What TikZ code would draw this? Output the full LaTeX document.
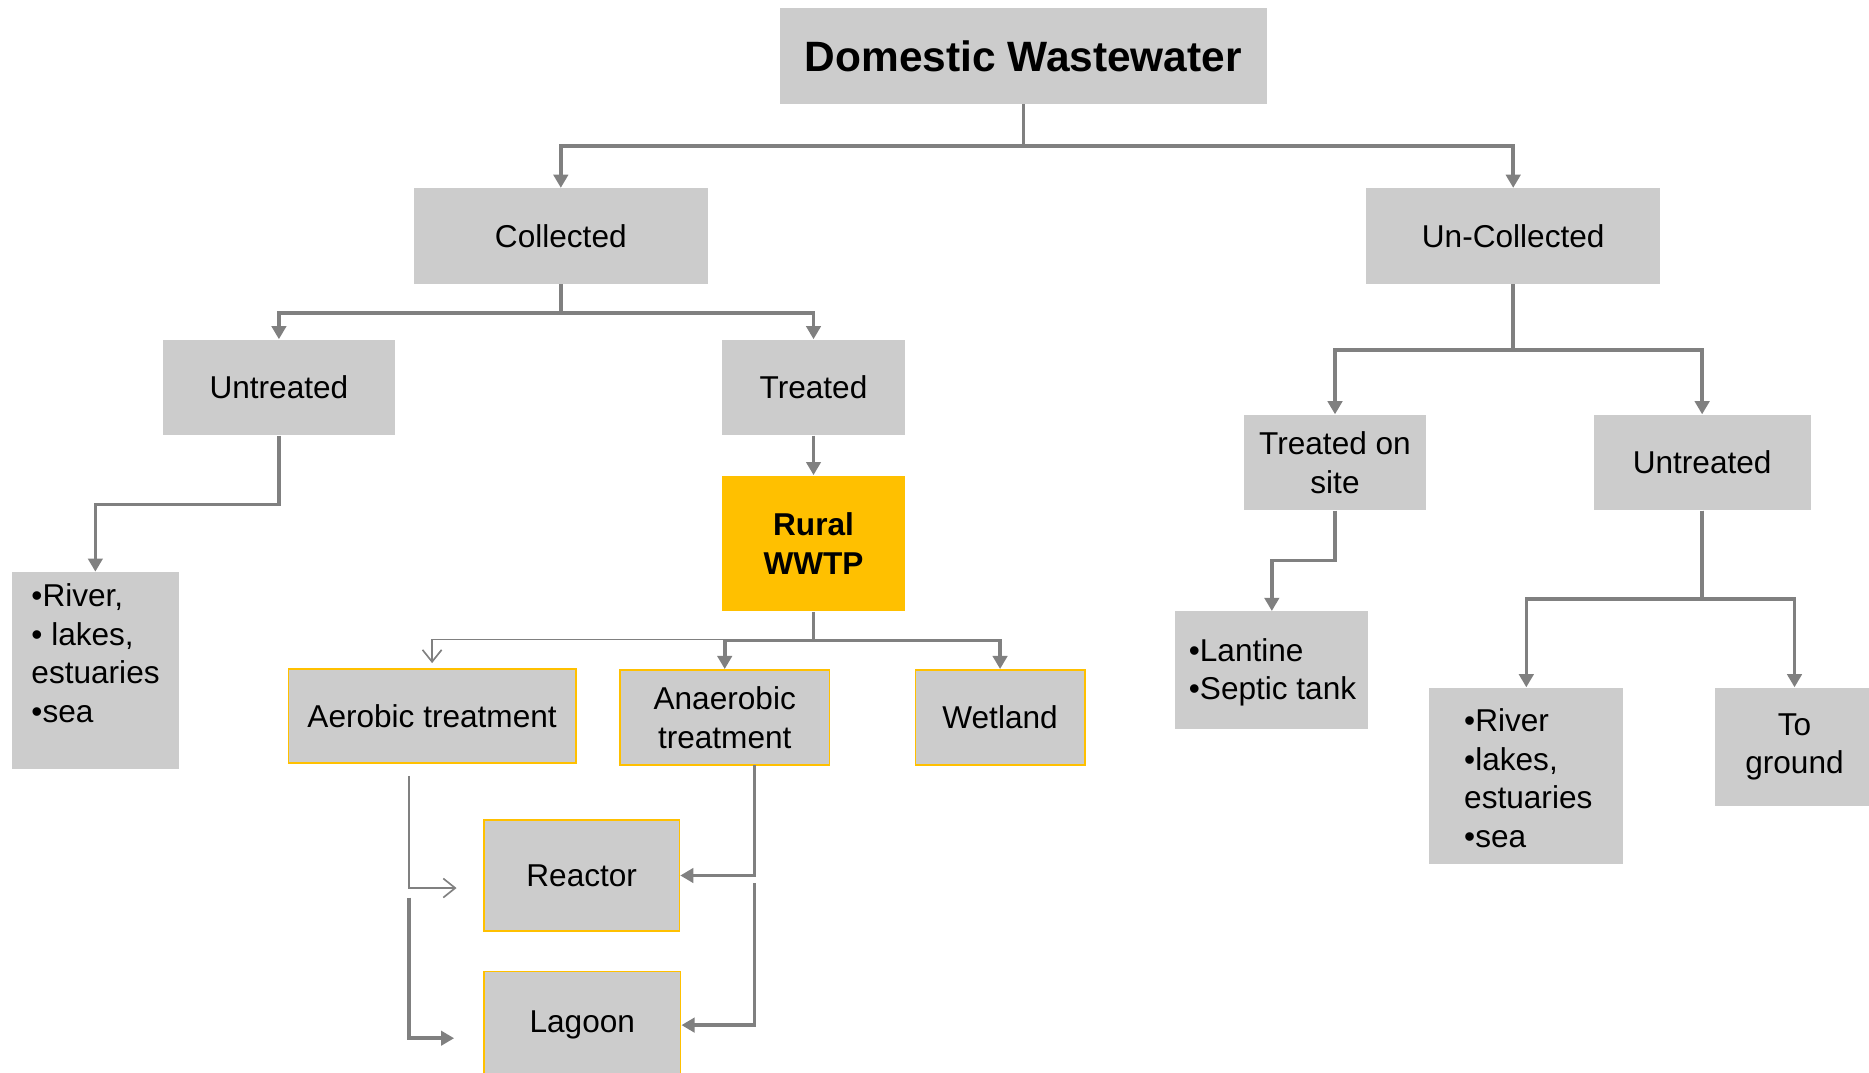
\documentclass[tikz,border=0pt]{standalone}
\usepackage{fontspec}
\setmainfont{Liberation Sans}
\usetikzlibrary{arrows.meta,calc}
\definecolor{boxgray}{HTML}{CCCCCC}
\definecolor{lgray}{HTML}{808080}
\definecolor{gold}{HTML}{FFC000}
\begin{document}
\begin{tikzpicture}[x=0.5pt,y=-0.5pt,
 box/.style={fill=boxgray, inner sep=0pt, align=center, font=\fontsize{13.25}{16.2}\selectfont},
 ybox/.style={box, draw=gold, line width=0.7pt},
 conn/.style={draw=lgray, line width=1.5pt, -{Triangle[width=6pt,length=5.5pt]}},
 thinconn/.style={draw=lgray, line width=0.7pt, -{Straight Barb[width=8pt,length=5pt]}},
 txt/.style={inner sep=0pt, align=left, anchor=west, font=\fontsize{13.25}{16.2}\selectfont}
]
\useasboundingbox (0,0) rectangle (1568,900);
\clip (0,0) rectangle (1568,900);

\node[box, minimum width=204.5pt, minimum height=40pt, font=\fontsize{17.8}{21}\selectfont\bfseries] (dw) at (858.5,47) {Domestic Wastewater};
\node[box, minimum width=123.5pt, minimum height=40pt] (col) at (470.5,198) {Collected};
\node[box, minimum width=123.5pt, minimum height=40pt] (unc) at (1269.5,198) {Un-Collected};
\node[box, minimum width=97pt, minimum height=40pt] (untl) at (234,325) {Untreated};
\node[box, minimum width=76.5pt, minimum height=40pt] (trt) at (682.5,325) {Treated};
\node[box, fill=gold, minimum width=76.5pt, minimum height=57pt, font=\fontsize{13.25}{16}\selectfont\bfseries] (wwtp) at (682.5,456) {Rural\\WWTP};
\node[box, minimum width=70pt, minimum height=82.5pt] (rivl) at (80,562.5) {};
\node[txt] (rivlt) at (26,548) {•River,\\• lakes,\\estuaries\\•sea};
\node[ybox, minimum width=120.5pt, minimum height=39.5pt] (aer) at (362.5,600.5) {Aerobic treatment};
\node[ybox, minimum width=88pt, minimum height=40pt, font=\fontsize{13.25}{16.5}\selectfont] (ana) at (608,602) {Anaerobic\\treatment};
\node[ybox, minimum width=71pt, minimum height=40pt] (wet) at (839,602) {Wetland};
\node[ybox, minimum width=82pt, minimum height=46.5pt] (reac) at (488,734.5) {Reactor};
\node[ybox, minimum width=82.5pt, minimum height=45pt] (lag) at (488.5,860) {Lagoon};
\node[box, minimum width=76pt, minimum height=40pt] (ons) at (1120,388) {Treated on\\site};
\node[box, minimum width=91pt, minimum height=40pt] (untr) at (1428,388) {Untreated};
\node[box, minimum width=81pt, minimum height=49.5pt] (lant) at (1067,562.5) {};
\node[txt] (lantt) at (997,564) {•Lantine\\•Septic tank};
\node[box, minimum width=81.5pt, minimum height=74pt] (rivr) at (1280.5,651) {};
\node[txt] (rivrt) at (1228,653) {•River\\•lakes,\\estuaries\\•sea};
\node[box, minimum width=67pt, minimum height=49.5pt] (gnd) at (1505.5,626.5) {To\\ground};

% top level
\draw[conn] (dw.south) -- ++(0,35) -| (col.north);
\draw[conn] (dw.south) -- ++(0,35) -| (unc.north);
% collected
\draw[conn] (col.south) -- ++(0,24) -| (untl.north);
\draw[conn] (col.south) -- ++(0,24) -| (trt.north);
\draw[conn] (trt) -- (wwtp);
\draw[conn] (untl.south) -- ++(0,58) -| (rivl.north);
% rural WWTP
\draw[thinconn, shorten >=2pt] (wwtp.south) -- ++(0,23) -| (aer.north);
\draw[conn] (wwtp.south) -- ++(0,24) -| (ana.north);
\draw[conn] (wwtp.south) -- ++(0,24) -| (wet.north);
% aerobic to reactor / lagoon
\coordinate (a1) at (343,651);
\coordinate (a2) at (383,745);
\coordinate (a3) at (343,753);
\coordinate (a4) at (381,871);
\draw[thinconn] (a1) |- (a2);
\draw[conn] (a3) |- (a4);
% anaerobic to reactor / lagoon
\coordinate (b1) at (633,642);
\coordinate (b2) at (633,741);
\draw[conn] (b1) |- (reac.east);
\draw[conn] (b2) |- (lag.east);
% un-collected
\draw[conn] (unc.south) -- ++(0,55) -| (ons.north);
\draw[conn] (unc.south) -- ++(0,55) -| (untr.north);
\draw[conn] (ons.south) -- ++(0,42) -| (lant.north);
\draw[conn] (untr.south) -- ++(0,74) -| (rivr.north);
\draw[conn] (untr.south) -- ++(0,74) -| (gnd.north);
\end{tikzpicture}
\end{document}
